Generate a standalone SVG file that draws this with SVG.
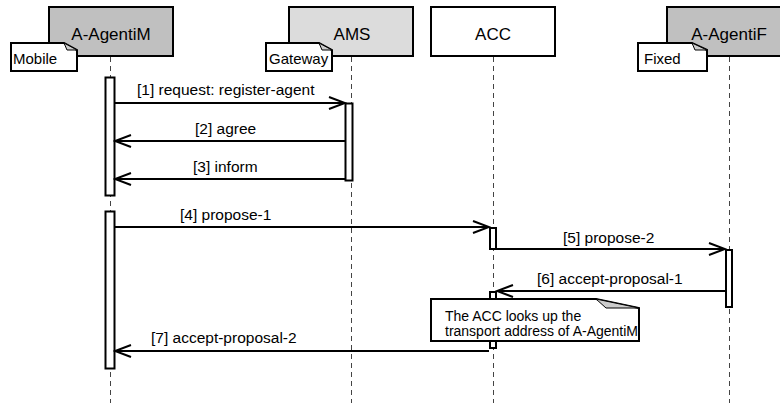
<svg xmlns="http://www.w3.org/2000/svg" width="780" height="403" viewBox="0 0 780 403">
<defs>
<marker id="arr" markerUnits="userSpaceOnUse" markerWidth="20" markerHeight="16" viewBox="-18 -8 20 16" refX="0" refY="0" orient="auto">
<path d="M-16,-6 L0,0 L-16,6" fill="none" stroke="#000" stroke-width="2"/>
</marker>
</defs>
<style>
text{font-family:"Liberation Sans",Arial,Helvetica,sans-serif;fill:#000}
.box{stroke:#000;stroke-width:2}
.lbl{font-size:17px;text-anchor:middle}
.life{stroke:#444;stroke-width:1;stroke-dasharray:5,4;fill:none}
.act{fill:#fff;stroke:#000;stroke-width:2}
.msg{stroke:#000;stroke-width:2;fill:none;marker-end:url(#arr)}
.mt{font-size:15.5px}
.note{fill:#fff;stroke:#000;stroke-width:2}
.fold{fill:#ccc;stroke:#000;stroke-width:1}
.nt{font-size:15px}
.ct{font-size:14px}
</style>
<rect width="780" height="403" fill="#fff"/>
<g id="lifelines">
<line class="life" x1="110.5" y1="57" x2="110.5" y2="403"/>
<line class="life" x1="351.5" y1="57" x2="351.5" y2="403"/>
<line class="life" x1="493.5" y1="57" x2="493.5" y2="403"/>
<line class="life" x1="729.5" y1="57" x2="729.5" y2="403"/>
</g>
<g id="A-AgentiM">
<rect class="box" x="49" y="7" width="124" height="49" fill="#c0c0c0"/>
<text class="lbl" x="111" y="40">A-AgentiM</text>
</g>
<g id="AMS">
<rect class="box" x="289" y="7" width="124" height="49" fill="#dcdcdc"/>
<text class="lbl" x="352" y="40">AMS</text>
</g>
<g id="ACC">
<rect class="box" x="431" y="7" width="124" height="49" fill="#fff"/>
<text class="lbl" x="493" y="40">ACC</text>
</g>
<g id="A-AgentiF">
<rect class="box" x="667" y="7" width="124" height="49" fill="#c0c0c0"/>
<text class="lbl" x="729" y="40">A-AgentiF</text>
</g>
<g id="note-mobile">
<path class="note" d="M11,43 H64 L77,50 V71 H11 Z"/>
<path class="fold" d="M64,43 L67,50 L77,50 Z"/>
<text class="nt" x="13" y="64">Mobile</text>
</g>
<g id="note-gateway">
<path class="note" d="M266,43 H319 L332,50 V71 H266 Z"/>
<path class="fold" d="M319,43 L322,50 L332,50 Z"/>
<text class="nt" x="269" y="64">Gateway</text>
</g>
<g id="note-fixed">
<path class="note" d="M638,43 H692 L707,50 V71 H638 Z"/>
<path class="fold" d="M692,43 L695,50 L707,50 Z"/>
<text class="nt" x="644" y="64">Fixed</text>
</g>
<g id="activations">
<rect class="act" x="105.5" y="77.5" width="9" height="118"/>
<rect class="act" x="105.5" y="211.5" width="9" height="157"/>
<rect class="act" x="345.5" y="103.5" width="7" height="77"/>
<rect class="act" x="490" y="228" width="6" height="21"/>
<rect class="act" x="726" y="250" width="6" height="57"/>
<rect class="act" x="490" y="292" width="6" height="56"/>
</g>
<g id="connectors">
<line class="msg" x1="115" y1="103" x2="345" y2="103"/>
<text class="mt" x="137" y="95">[1] request: register-agent</text>
<line class="msg" x1="345" y1="141" x2="115" y2="141"/>
<text class="mt" x="195" y="134">[2] agree</text>
<line class="msg" x1="345" y1="179" x2="115" y2="179"/>
<text class="mt" x="193" y="172">[3] inform</text>
<line class="msg" x1="115" y1="227" x2="489" y2="227"/>
<text class="mt" x="180" y="220">[4] propose-1</text>
<line class="msg" x1="497" y1="249" x2="725" y2="249"/>
<text class="mt" x="563" y="242.5">[5] propose-2</text>
<line class="msg" x1="725" y1="291" x2="497" y2="291"/>
<text class="mt" x="537" y="283.5">[6] accept-proposal-1</text>
<line class="msg" x1="489" y1="351" x2="115" y2="351"/>
<text class="mt" x="151" y="343">[7] accept-proposal-2</text>
</g>
<g id="note-acc">
<path class="note" d="M431,299 H596 L639,308 V341 H431 Z"/>
<path class="fold" d="M596,299 L606,308 L639,308 Z"/>
<text class="ct" x="445" y="321">The ACC looks up the</text>
<text class="ct" x="445" y="336">transport address of A-AgentiM</text>
</g>
</svg>
